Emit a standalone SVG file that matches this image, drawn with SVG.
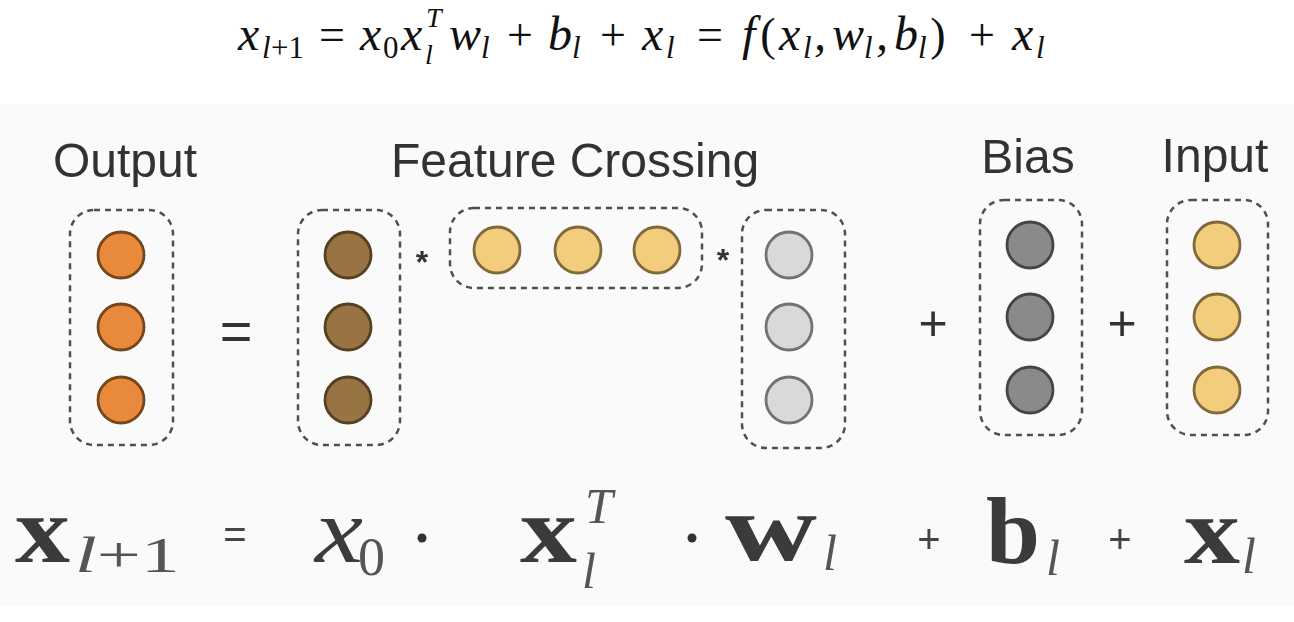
<svg xmlns="http://www.w3.org/2000/svg" width="1294" height="622" viewBox="0 0 1294 622">
  <defs>
    <style>
      .m { font-family: "Liberation Serif", "Times New Roman", serif; font-style: italic; fill: #111; font-size: 48px; }
      .ms { font-family: "Liberation Serif", "Times New Roman", serif; font-style: italic; fill: #111; font-size: 31px; }
      .mt { font-family: "Liberation Serif", "Times New Roman", serif; font-style: italic; fill: #111; font-size: 28px; }
      .mo { font-family: "Liberation Serif", "Times New Roman", serif; font-style: normal; fill: #111; font-size: 46px; text-anchor: middle; }
      .mos { font-family: "Liberation Serif", "Times New Roman", serif; font-style: normal; fill: #111; font-size: 31px; }
      .lbl { font-family: "Liberation Sans", Arial, sans-serif; font-size: 48px; fill: #333; text-anchor: middle; }
      .op { font-family: "Liberation Sans", Arial, sans-serif; fill: #333; text-anchor: middle; }
      .box { fill: none; stroke: #505050; stroke-width: 2.5; stroke-dasharray: 6 5; }
      .c { stroke-width: 2.8; }
      .c-out { fill: #e8893a; stroke: #74461a; }
      .c-x0 { fill: #9a7344; stroke: #544024; }
      .c-y { fill: #f2cd7b; stroke: #80693c; }
      .c-w { fill: #d9d9d9; stroke: #727272; }
      .c-b { fill: #8a8a8a; stroke: #444; }
      .bb { font-family: "Liberation Serif", "Times New Roman", serif; font-weight: bold; fill: #3a3a3a; font-size: 96px; }
      .bi { font-family: "Liberation Serif", "Times New Roman", serif; font-style: italic; fill: #3a3a3a; font-size: 94px; }
      .bs { font-family: "Liberation Serif", "Times New Roman", serif; font-style: italic; fill: #555; font-size: 50px; }
      .bn { font-family: "Liberation Serif", "Times New Roman", serif; fill: #555; font-size: 54px; }
      .bop { font-family: "Liberation Sans", Arial, sans-serif; fill: #444; text-anchor: middle; }
    </style>
    <filter id="soft" x="-5%" y="-5%" width="110%" height="110%">
      <feGaussianBlur stdDeviation="0.7"/>
    </filter>
  </defs>

  <rect x="0" y="0" width="1294" height="622" fill="#ffffff"/>

  <!-- top formula -->
  <g id="formula-top">
    <text class="m" x="238" y="50">x</text>
    <text class="ms" x="262" y="58">l</text><text class="mos" x="271" y="58">+1</text>
    <text class="mo" x="332" y="50">=</text>
    <text class="m" x="360" y="50">x</text><text class="mos" x="383" y="58">0</text>
    <text class="m" x="401" y="50">x</text><text class="mt" x="426" y="27">T</text><text class="mt" x="425" y="64">l</text>
    <text class="m" x="449" y="50">w</text><text class="ms" x="481" y="58">l</text>
    <text class="mo" x="520" y="50">+</text>
    <text class="m" x="548" y="50">b</text><text class="ms" x="572" y="58">l</text>
    <text class="mo" x="613" y="50">+</text>
    <text class="m" x="642" y="50">x</text><text class="ms" x="666" y="58">l</text>
    <text class="mo" x="710" y="50">=</text>
    <text class="m" x="742" y="50">f</text>
    <text class="mo" x="768" y="50">(</text>
    <text class="m" x="779" y="50">x</text><text class="ms" x="803" y="58">l</text>
    <text class="m" x="814" y="50">,</text>
    <text class="m" x="832" y="50">w</text><text class="ms" x="864" y="58">l</text>
    <text class="m" x="876" y="50">,</text>
    <text class="m" x="894" y="50">b</text><text class="ms" x="918" y="58">l</text>
    <text class="mo" x="938" y="50">)</text>
    <text class="mo" x="982" y="50">+</text>
    <text class="m" x="1012" y="50">x</text><text class="ms" x="1036" y="58">l</text>
  </g>

  <!-- photographed figure area -->
  <rect x="0" y="104" width="1294" height="502" fill="#fafafa"/>

  <g filter="url(#soft)">
    <g id="labels">
      <text class="lbl" x="125" y="177">Output</text>
      <text class="lbl" x="575" y="177">Feature Crossing</text>
      <text class="lbl" x="1028" y="173">Bias</text>
      <text class="lbl" x="1215" y="172">Input</text>
    </g>

    <g id="node-output">
      <rect class="box" x="70" y="210" width="103" height="235" rx="24"/>
      <circle class="c c-out" cx="121" cy="255" r="23"/>
      <circle class="c c-out" cx="121" cy="327" r="23"/>
      <circle class="c c-out" cx="121" cy="400" r="23"/>
    </g>

    <g id="node-x0">
      <rect class="box" x="298" y="210" width="102" height="235" rx="24"/>
      <circle class="c c-x0" cx="348" cy="255" r="23"/>
      <circle class="c c-x0" cx="348" cy="327" r="23"/>
      <circle class="c c-x0" cx="348" cy="400" r="23"/>
    </g>

    <g id="node-xlT">
      <rect class="box" x="450" y="208" width="252" height="80" rx="24"/>
      <circle class="c c-y" cx="497" cy="250" r="23"/>
      <circle class="c c-y" cx="578" cy="250" r="23"/>
      <circle class="c c-y" cx="657" cy="250" r="23"/>
    </g>

    <g id="node-w">
      <rect class="box" x="742" y="210" width="103" height="238" rx="24"/>
      <circle class="c c-w" cx="789" cy="255" r="23"/>
      <circle class="c c-w" cx="789" cy="327" r="23"/>
      <circle class="c c-w" cx="789" cy="400" r="23"/>
    </g>

    <g id="node-bias">
      <rect class="box" x="980" y="200" width="102" height="235" rx="24"/>
      <circle class="c c-b" cx="1030" cy="245" r="23"/>
      <circle class="c c-b" cx="1030" cy="317" r="23"/>
      <circle class="c c-b" cx="1030" cy="390" r="23"/>
    </g>

    <g id="node-input">
      <rect class="box" x="1167" y="200" width="101" height="235" rx="24"/>
      <circle class="c c-y" cx="1217" cy="245" r="23"/>
      <circle class="c c-y" cx="1217" cy="317" r="23"/>
      <circle class="c c-y" cx="1217" cy="390" r="23"/>
    </g>

    <g id="connectors">
      <text class="op" x="236" y="350" font-size="56">=</text>
      <text class="op" x="422" y="273" font-size="32" font-weight="bold">*</text>
      <text class="op" x="723" y="271" font-size="32" font-weight="bold">*</text>
      <text class="op" x="933" y="340" font-size="50">+</text>
      <text class="op" x="1122" y="340" font-size="50">+</text>
    </g>

    <g id="formula-bottom">
      <text class="bb" x="15" y="562" textLength="55" lengthAdjust="spacingAndGlyphs">x</text>
      <text class="bs" x="75" y="572" textLength="105" lengthAdjust="spacingAndGlyphs">l<tspan font-style="normal">+1</tspan></text>
      <text class="bop" x="235" y="548" font-size="40">=</text>
      <text class="bi" x="315" y="562" textLength="48" lengthAdjust="spacingAndGlyphs">x</text>
      <text class="bn" x="358" y="575">0</text>
      <circle cx="422" cy="538" r="4.5" fill="#333"/>
      <text class="bb" x="520" y="562" textLength="57" lengthAdjust="spacingAndGlyphs">x</text>
      <text class="bs" x="585" y="523" font-size="60">T</text>
      <text class="bs" x="582" y="588">l</text>
      <circle cx="692" cy="538" r="4.5" fill="#333"/>
      <text class="bb" x="725" y="560" textLength="92" lengthAdjust="spacingAndGlyphs">w</text>
      <text class="bs" x="823" y="570">l</text>
      <text class="bop" x="929" y="553" font-size="40">+</text>
      <text class="bb" x="986" y="563" textLength="54" lengthAdjust="spacingAndGlyphs">b</text>
      <text class="bs" x="1046" y="575">l</text>
      <text class="bop" x="1120" y="553" font-size="40">+</text>
      <text class="bb" x="1184" y="563" textLength="56" lengthAdjust="spacingAndGlyphs">x</text>
      <text class="bs" x="1242" y="573">l</text>
    </g>
  </g>
</svg>
